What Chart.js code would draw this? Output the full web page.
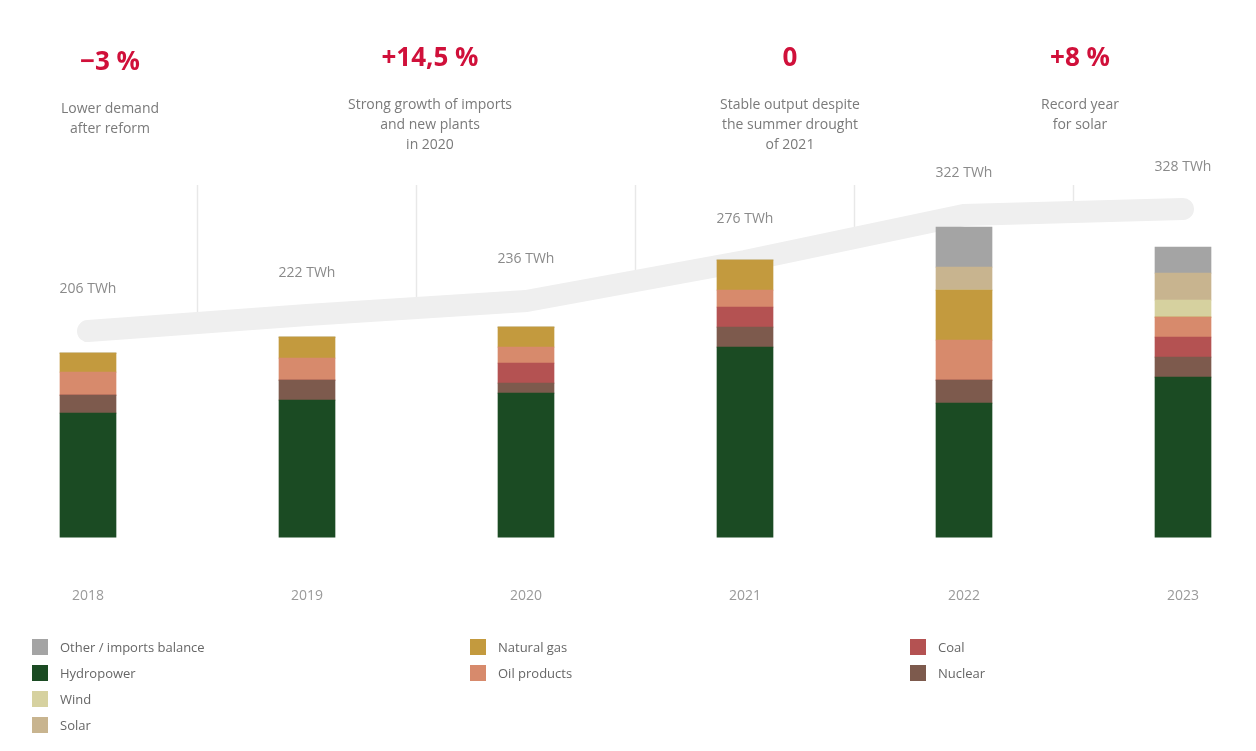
<!DOCTYPE html>
<html>
<head>
<meta charset="utf-8">
<script src="https://cdn.jsdelivr.net/npm/chart.js@4/dist/chart.umd.min.js"></script>
<style>
  html, body { margin:0; padding:0; background:#fff; }
  body { width:1256px; height:751px; position:relative; overflow:hidden; font-family:"Open Sans", sans-serif; }
  #chart { position:absolute; left:0; top:0; }
  .note { position:absolute; text-align:center; transform:translateX(-50%); white-space:nowrap; }
  .note .big { color:#d0103a; font-size:26px; font-weight:700; line-height:32px; }
  .note .txt { color:#7a7a7a; font-size:14px; line-height:20px; margin-top:22px; }
  .legend { position:absolute; top:634px; font-size:13px; color:#666; }
  .legend .row { display:flex; align-items:center; height:26px; white-space:nowrap; }
  .legend .sw { width:16px; height:16px; margin-right:12px; flex:none; }
</style>
</head>
<body>
<canvas id="chart" width="1256" height="751"></canvas>

<div class="note" style="left:110px;top:44px"><div class="big">−3 %</div><div class="txt">Lower demand<br>after reform</div></div>
<div class="note" style="left:430px;top:40px"><div class="big">+14,5 %</div><div class="txt">Strong growth of imports<br>and new plants<br>in 2020</div></div>
<div class="note" style="left:790px;top:40px"><div class="big">0</div><div class="txt">Stable output despite<br>the summer drought<br>of 2021</div></div>
<div class="note" style="left:1080px;top:40px"><div class="big">+8 %</div><div class="txt">Record year<br>for solar</div></div>

<div class="legend" style="left:32px" id="leg1"></div>
<div class="legend" style="left:470px" id="leg2"></div>
<div class="legend" style="left:910px" id="leg3"></div>

<script>
// data (TWh)
const years = ['2018', '2019', '2020', '2021', '2022', '2023'];
const hydro   = [124, 137, 144, 190, 134, 160];
const nuclear = [18, 20, 10, 20, 23, 20];
const coal    = [0, 0, 20, 20, 0, 20];
const oil     = [23, 22, 16, 17, 40, 20];
const gas     = [19, 21, 20, 30, 50, 0];
const wind    = [0, 0, 0, 0, 0, 17];
const solar   = [0, 0, 0, 0, 23, 27];
const other   = [0, 0, 0, 0, 40, 26];
const demand  = [206, 222, 236, 276, 322, 328];

const series = [
  { label:'Hydropower', data:hydro, color:'#1b4b23' },
  { label:'Nuclear', data:nuclear, color:'#7d5a4d' },
  { label:'Coal', data:coal, color:'#b45252' },
  { label:'Oil products', data:oil, color:'#d78a6c' },
  { label:'Natural gas', data:gas, color:'#c39a3e' },
  { label:'Wind', data:wind, color:'#d6d19f' },
  { label:'Solar', data:solar, color:'#c8b48f' },
  { label:'Other / imports balance', data:other, color:'#a4a4a4' }
];

const legendCols = [
  ['Other / imports balance', 'Hydropower', 'Wind', 'Solar'],
  ['Natural gas', 'Oil products'],
  ['Coal', 'Nuclear']
];
legendCols.forEach((col, i) => {
  const box = document.getElementById('leg' + (i + 1));
  col.forEach(name => {
    const s = series.find(x => x.label === name);
    const row = document.createElement('div');
    row.className = 'row';
    row.innerHTML = '<span class="sw" style="background:' + s.color + '"></span>' + name;
    box.appendChild(row);
  });
});

const datasets = series.map(s => ({
  type:'bar', label:s.label, data:s.data, backgroundColor:s.color,
  stack:'mix', barThickness:56, order:1, clip:false
}));
datasets.push({
  type:'line', label:'Demand', data:demand, borderColor:'#efefef', borderWidth:22,
  pointRadius:0, tension:0, order:99, clip:false, borderCapStyle:'round'
});

// faint separators from the top down to the demand band, and value labels
const extras = {
  id:'extras',
  beforeDatasetsDraw(chart){
    const ctx = chart.ctx, x = chart.scales.x, y = chart.scales.y;
    ctx.save();
    ctx.strokeStyle = '#e8e8e8';
    ctx.lineWidth = 1.5;
    for(let i = 0; i < years.length - 1; i++){
      const xm = (x.getPixelForValue(i) + x.getPixelForValue(i + 1)) / 2;
      const ym = y.getPixelForValue((demand[i] + demand[i + 1]) / 2) - 11;
      if(ym <= chart.chartArea.top) continue;
      ctx.beginPath();
      ctx.moveTo(xm, chart.chartArea.top);
      ctx.lineTo(xm, ym);
      ctx.stroke();
    }
    ctx.restore();
  },
  afterDatasetsDraw(chart){
    const ctx = chart.ctx, x = chart.scales.x, y = chart.scales.y;
    ctx.save();
    ctx.fillStyle = '#8a8a8a';
    ctx.font = '14px "Open Sans", sans-serif';
    ctx.textAlign = 'center';
    ctx.textBaseline = 'middle';
    demand.forEach((v, i) => {
      ctx.fillText(v + ' TWh', x.getPixelForValue(i), y.getPixelForValue(v) - 42);
    });
    ctx.restore();
  }
};

new Chart(document.getElementById('chart').getContext('2d'), {
  data:{ labels:years, datasets },
  options:{
    responsive:false,
    animation:false,
    layout:{ padding:{ left:88, right:73, top:185, bottom:97 } },
    plugins:{ legend:{ display:false }, tooltip:{ enabled:false } },
    scales:{
      x:{
        offset:false, stacked:true,
        grid:{ display:false, drawTicks:false }, border:{ display:false },
        ticks:{ padding:50, color:'#9a9a9a', font:{ family:'"Open Sans", sans-serif', size:14 } }
      },
      y:{ display:false, stacked:true, min:0, max:352 }
    }
  },
  plugins:[extras]
});
</script>
</body>
</html>
